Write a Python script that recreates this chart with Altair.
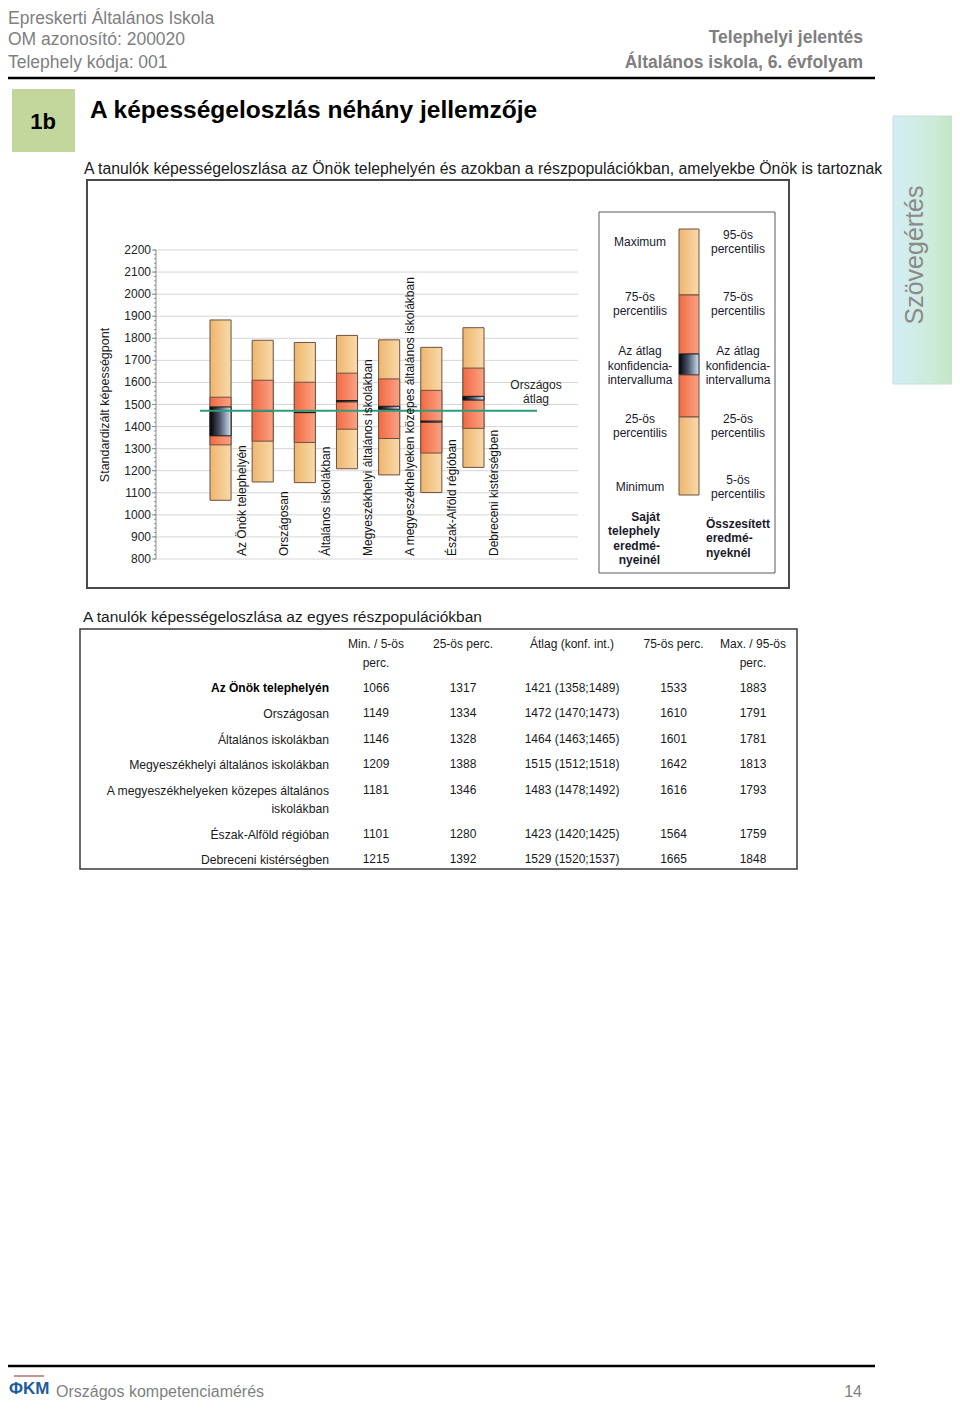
import altair as alt
import pandas as pd

# ------------------------------------------------------------------ data
CATEGORIES = [
    "Az Önök telephelyén",
    "Országosan",
    "Általános iskolákban",
    "Megyeszékhelyi általános iskolákban",
    "A megyeszékhelyeken közepes általános iskolákban",
    "Észak-Alföld régióban",
    "Debreceni kistérségben",
]
TABLE_LABELS = [
    "Az Önök telephelyén",
    "Országosan",
    "Általános iskolákban",
    "Megyeszékhelyi általános iskolákban",
    "A megyeszékhelyeken közepes általános\niskolákban",
    "Észak-Alföld régióban",
    "Debreceni kistérségben",
]
P_MIN = [1066, 1149, 1146, 1209, 1181, 1101, 1215]
P25 = [1317, 1334, 1328, 1388, 1346, 1280, 1392]
MEAN = [1421, 1472, 1464, 1515, 1483, 1423, 1529]
CI_LO = [1358, 1470, 1463, 1512, 1478, 1420, 1520]
CI_HI = [1489, 1473, 1465, 1518, 1492, 1425, 1537]
P75 = [1533, 1610, 1601, 1642, 1616, 1564, 1665]
P_MAX = [1883, 1791, 1781, 1813, 1793, 1759, 1848]
NATIONAL_MEAN = 1472
Y_TICKS = [800, 900, 1000, 1100, 1200, 1300, 1400, 1500, 1600, 1700,
           1800, 1900, 2000, 2100, 2200]
MINOR_STEP = 20
COLUMN_HEADERS = ["Min. / 5-ös\nperc.", "25-ös perc.", "Átlag (konf. int.)",
                  "75-ös perc.", "Max. / 95-ös\nperc."]

# ------------------------------------------------------------------ helpers
OFF = 8


def px(v):
    return v - OFF


SANS = "Liberation Sans, Arial, Helvetica, sans-serif"
ONE = pd.DataFrame({"_": [0]})


def grad(stops):
    return alt.Gradient(gradient="linear", x1=0, x2=1, y1=0, y2=0,
                        stops=[alt.GradientStop(color=c, offset=o) for o, c in stops])


LIGHT = grad([(0, "#EEB66F"), (1, "#F9DAAA")])
SALMON = grad([(0, "#F26A42"), (1, "#F9A385")])
DARK = grad([(0, "#000000"), (0.45, "#4a5468"), (1, "#D2E4F7")])
SIDE = grad([(0, "#D3EEF6"), (0.6, "#CDEBD8"), (1, "#BFE3BF")])
EDGE = "#6e5040"


def text(s, x, y, size=12, color="#000000", weight="normal", align="left",
         baseline="middle", angle=None, line_height=None):
    kw = dict(text=s, fontSize=size, color=color, fontWeight=weight,
              align=align, baseline=baseline, font=SANS)
    if angle is not None:
        kw["angle"] = angle
    if line_height is not None:
        kw["lineHeight"] = line_height
    if isinstance(s, list) and baseline == "middle" and line_height:
        y = y - (len(s) - 1) * line_height / 2
    return alt.Chart(ONE).mark_text(**kw).encode(x=alt.value(px(x)), y=alt.value(px(y)))


def hline(x1, x2, y, color, width):
    return alt.Chart(ONE).mark_rule(color=color, strokeWidth=width).encode(
        x=alt.value(px(x1)), x2=alt.value(px(x2)), y=alt.value(px(y)))


def rect(x1, x2, y1, y2, fill=None, stroke=None, sw=1):
    kw = {}
    if fill is not None:
        kw["fill"] = fill
    else:
        kw["fillOpacity"] = 0
    if stroke is not None:
        kw["stroke"] = stroke
        kw["strokeWidth"] = sw
    return alt.Chart(ONE).mark_rect(**kw).encode(
        x=alt.value(px(x1)), x2=alt.value(px(x2)),
        y=alt.value(px(y1)), y2=alt.value(px(y2)))


layers = []

# ------------------------------------------------------------------ page header
GRAY = "#7f7f7f"
layers += [
    rect(893, 960, 116, 384, fill=SIDE, stroke="#c8dcd8", sw=1),
    text("Szövegértés", 915, 255, size=25, color="#8a8a8a", align="center", angle=270),
    text("Epreskerti Általános Iskola", 8, 19, size=17.5, color=GRAY),
    text("OM azonosító: 200020", 8, 40, size=17.5, color=GRAY),
    text("Telephely kódja: 001", 8, 63, size=17.5, color=GRAY),
    text("Telephelyi jelentés", 863, 38, size=17.5, color=GRAY, weight="bold", align="right"),
    text("Általános iskola, 6. évfolyam", 863, 63, size=17.5, color=GRAY, weight="bold",
         align="right"),
    hline(8, 875, 78, "#000000", 2.5),
    rect(12, 75, 89, 152, fill="#C3D69B"),
    text("1b", 43, 122, size=22, weight="bold", align="center"),
    text("A képességeloszlás néhány jellemzője", 90, 111, size=24.5, weight="bold"),
    text("A tanulók képességeloszlása az Önök telephelyén és azokban a részpopulációkban, "
         "amelyekbe Önök is tartoznak", 84, 169, size=15.8, color="#1a1a1a"),
    rect(87, 789, 180, 588, stroke="#4a4a4a", sw=2),
]

# ------------------------------------------------------------------ box chart
box = pd.DataFrame(dict(cat=CATEGORIES, lo=P_MIN, q1=P25, mean=MEAN,
                        cl=CI_LO, ch=CI_HI, q3=P75, hi=P_MAX))
X_SC = alt.Scale(type="band", domain=CATEGORIES, range=[px(210), px(484)],
                 paddingInner=0.5, paddingOuter=0)
Y_SC = alt.Scale(domain=[Y_TICKS[0], Y_TICKS[-1]], range=[px(559), px(250)],
                 nice=False, zero=False)
XC = alt.X("cat:N", scale=X_SC, axis=None)

ticks = pd.DataFrame({"v": Y_TICKS})
minor = pd.DataFrame({"v": [v for v in range(Y_TICKS[0], Y_TICKS[-1] + 1, MINOR_STEP)]})
ends = pd.DataFrame({"a": [Y_TICKS[0]], "b": [Y_TICKS[-1]]})
nat = pd.DataFrame({"v": [NATIONAL_MEAN]})

layers += [
    alt.Chart(ticks).mark_rule(color="#d6d6d6", strokeWidth=1).encode(
        y=alt.Y("v:Q", scale=Y_SC, axis=None), x=alt.value(px(156)), x2=alt.value(px(578))),
    alt.Chart(ends).mark_rule(color="#8c8c8c", strokeWidth=1).encode(
        y=alt.Y("a:Q", scale=Y_SC, axis=None), y2="b:Q", x=alt.value(px(156))),
    alt.Chart(minor).mark_rule(color="#8c8c8c", strokeWidth=1).encode(
        y=alt.Y("v:Q", scale=Y_SC, axis=None), x=alt.value(px(154)), x2=alt.value(px(156))),
    alt.Chart(ticks).mark_rule(color="#8c8c8c", strokeWidth=1).encode(
        y=alt.Y("v:Q", scale=Y_SC, axis=None), x=alt.value(px(152)), x2=alt.value(px(156))),
    alt.Chart(ticks).mark_text(fontSize=12, align="right", baseline="middle", font=SANS,
                               color="#222222").encode(
        y=alt.Y("v:Q", scale=Y_SC, axis=None), x=alt.value(px(151)), text="v:Q"),
    text("Standardizált képességpont", 105, 405, size=12.5, color="#222222",
         align="center", angle=270),
    alt.Chart(box).mark_bar(fill=LIGHT, stroke=EDGE, strokeWidth=1).encode(
        x=XC, y=alt.Y("lo:Q", scale=Y_SC, axis=None), y2="hi:Q"),
    alt.Chart(box).mark_bar(fill=SALMON, stroke=EDGE, strokeWidth=1).encode(
        x=XC, y=alt.Y("q1:Q", scale=Y_SC, axis=None), y2="q3:Q"),
    alt.Chart(box).mark_bar(fill=DARK, stroke="#1a1a1a", strokeWidth=1).encode(
        x=XC, y=alt.Y("cl:Q", scale=Y_SC, axis=None), y2="ch:Q"),
    alt.Chart(nat).mark_rule(color="#2E9C7A", strokeWidth=2).encode(
        y=alt.Y("v:Q", scale=Y_SC, axis=None), x=alt.value(px(200)), x2=alt.value(px(537))),
    alt.Chart(box).mark_text(fontSize=12, angle=270, align="left", baseline="middle",
                             dy=21, font=SANS, color="#111111").encode(
        x=XC, y=alt.value(px(556)), text="cat:N"),
    text(["Országos", "átlag"], 536, 392, size=12, color="#222222", align="center",
         line_height=14),
]

# ------------------------------------------------------------------ legend
LEG_L, LEG_R = 679, 699
layers += [
    rect(599, 775, 212, 573, fill="#ffffff", stroke="#5a5a5a", sw=1),
    rect(LEG_L, LEG_R, 229, 295, fill=LIGHT, stroke=EDGE),
    rect(LEG_L, LEG_R, 295, 354, fill=SALMON, stroke=EDGE),
    rect(LEG_L, LEG_R, 354, 375, fill=DARK, stroke="#1a1a1a"),
    rect(LEG_L, LEG_R, 375, 417, fill=SALMON, stroke=EDGE),
    rect(LEG_L, LEG_R, 417, 495, fill=LIGHT, stroke=EDGE),
]
LC, RC, LH = 640, 738, 14.5
for lines, x, y in [
    (["Maximum"], LC, 242),
    (["75-ös", "percentilis"], LC, 304),
    (["Az átlag", "konfidencia-", "intervalluma"], LC, 365.5),
    (["25-ös", "percentilis"], LC, 426),
    (["Minimum"], LC, 487),
    (["95-ös", "percentilis"], RC, 242),
    (["75-ös", "percentilis"], RC, 304),
    (["Az átlag", "konfidencia-", "intervalluma"], RC, 365.5),
    (["25-ös", "percentilis"], RC, 426),
    (["5-ös", "percentilis"], RC, 487),
]:
    layers.append(text(lines, x, y, size=12, color="#1a1a2a", align="center", line_height=LH))
layers += [
    text(["Saját", "telephely", "eredmé-", "nyeinél"], 660, 538.5, size=12, weight="bold",
         color="#1a1a2a", align="right", line_height=LH),
    text(["Összesített", "eredmé-", "nyeknél"], 706, 538, size=12, weight="bold",
         color="#1a1a2a", align="left", line_height=LH),
]

# ------------------------------------------------------------------ table
tab = pd.DataFrame(dict(
    label=TABLE_LABELS,
    c0=P_MIN,
    c1=P25,
    c2=[f"{m} ({l};{h})" for m, l, h in zip(MEAN, CI_LO, CI_HI)],
    c3=P75,
    c4=P_MAX,
))
LINE_FRAC = 18 / 25.4
extra = tab["label"].str.count("\n")
tab["row"] = range(len(tab))
tab["pos"] = tab["row"] + LINE_FRAC * (extra.cumsum() - extra)
ROW_SC = alt.Scale(domain=[0, float(tab["pos"].max())], range=[px(683), px(854)],
                   nice=False, zero=False)
YR = alt.Y("pos:Q", scale=ROW_SC, axis=None)

layers += [
    text("A tanulók képességeloszlása az egyes részpopulációkban", 83, 617, size=15.5,
         color="#1a1a1a"),
    rect(80, 797, 629, 869, stroke="#3a3a3a", sw=1.5),
]
COL_X = [376, 463, 572, 673.5, 753]
for h, cx in zip(COLUMN_HEADERS, COL_X):
    layers.append(alt.Chart(ONE).mark_text(
        text=h.split("\n"), fontSize=12, align="center", baseline="top", lineHeight=19,
        font=SANS, color="#1a1a1a").encode(x=alt.value(px(cx)), y=alt.value(px(639))))
layers += [
    alt.Chart(tab).transform_filter("datum.row == 0").mark_text(
        fontSize=12, align="right", baseline="top", font=SANS, fontWeight="bold",
        color="#000000", lineBreak="\n", lineHeight=18).encode(
        y=YR, x=alt.value(px(329)), text="label:N"),
    alt.Chart(tab).transform_filter("datum.row > 0").mark_text(
        fontSize=12.2, align="right", baseline="top", font=SANS, color="#1a1a1a",
        lineBreak="\n", lineHeight=18).encode(
        y=YR, x=alt.value(px(329)), text="label:N"),
]
for col, cx in zip(["c0", "c1", "c2", "c3", "c4"], COL_X):
    layers.append(alt.Chart(tab).mark_text(
        fontSize=12, align="center", baseline="top", font=SANS, color="#1a1a1a").encode(
        y=YR, x=alt.value(px(cx)), text=f"{col}:N"))

# ------------------------------------------------------------------ footer
layers += [
    hline(8, 875, 1366, "#000000", 2.5),
    text("ΦKM", 9, 1389, size=17, color="#1F5C9E", weight="bold"),
    hline(14, 44, 1376, "#8B2A2A", 1),
    hline(14, 36, 1403, "#8B2A2A", 1),
    text("Országos kompetenciamérés", 56, 1392, size=16, color=GRAY),
    text("14", 862, 1392, size=16, color=GRAY, align="right"),
]

chart = alt.layer(*layers).resolve_scale(x="independent", y="independent").properties(
    width=944, height=1393, padding=0,
    autosize=alt.AutoSizeParams(type="none"), background="#ffffff",
).configure_view(stroke=None)

chart.save("out.html", embed_options={"renderer": "svg", "actions": False})
